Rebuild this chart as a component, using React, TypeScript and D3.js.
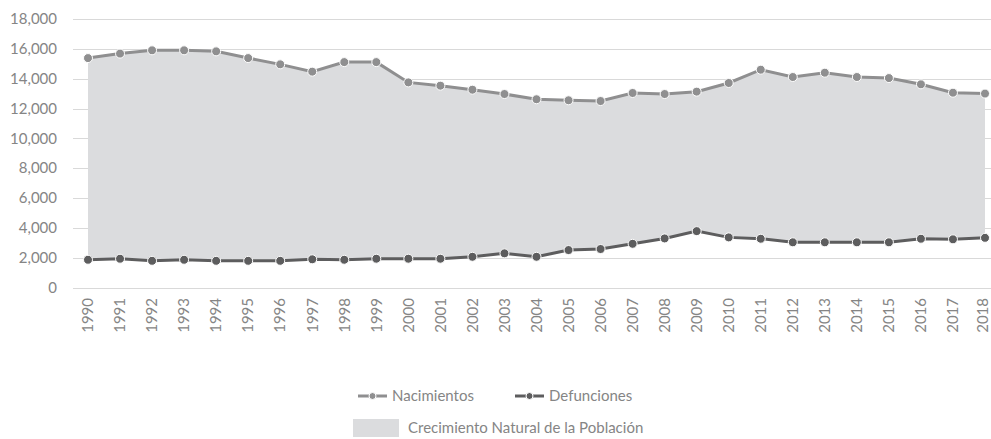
import React from "react";
import * as d3 from "d3";

const years: number[] = d3.range(1990, 2019);

const nacimientos: number[] = [
  15380, 15680, 15900, 15900, 15830, 15380, 14960, 14470, 15110, 15110,
  13750, 13530, 13260, 12970, 12620, 12550, 12500, 13040, 12970, 13130,
  13710, 14600, 14110, 14400, 14110, 14040, 13620, 13060, 13000,
];

const defunciones: number[] = [
  1860, 1930, 1790, 1860, 1790, 1790, 1790, 1890, 1860, 1930,
  1930, 1930, 2060, 2290, 2060, 2510, 2580, 2930, 3290, 3780,
  3360, 3270, 3030, 3030, 3030, 3030, 3270, 3230, 3330,
];

const yTicks: number[] = d3.range(0, 18001, 2000);

const width = 991;
const height = 439;
const font = "Lato, 'Open Sans', sans-serif";
const textColor = "#858585";

const App: React.FC = () => {
  const x = d3.scalePoint<number>().domain(years).range([88, 985]);
  const y = d3.scaleLinear().domain([0, 18000]).range([287.5, 19]);

  const fmt = d3.format(",");

  const area = d3
    .area<number>()
    .x((d) => x(d) ?? 0)
    .y0((_, i) => y(defunciones[i]))
    .y1((_, i) => y(nacimientos[i]));

  const lineOf = (vals: number[]) =>
    d3
      .line<number>()
      .x((d) => x(d) ?? 0)
      .y((_, i) => y(vals[i]))(years) ?? "";

  const series = [
    { name: "Nacimientos", values: nacimientos, color: "#8f8f90", lx: 358 },
    { name: "Defunciones", values: defunciones, color: "#5d5d5e", lx: 515 },
  ];

  return (
    <svg
      width={width}
      height={height}
      style={{ position: "absolute", left: 0, top: 0, background: "#fff" }}
      fontFamily={font}
    >
      {/* grid */}
      {yTicks.map((t) => (
        <line
          key={t}
          x1={73}
          x2={width}
          y1={Math.round(y(t)) + 0.5}
          y2={Math.round(y(t)) + 0.5}
          stroke="#d9d9d9"
          strokeWidth={1}
        />
      ))}
      {yTicks.map((t) => (
        <text
          key={"l" + t}
          x={57}
          y={y(t)}
          dy="0.35em"
          textAnchor="end"
          fontSize={15}
          fill={textColor}
        >
          {fmt(t)}
        </text>
      ))}

      <path d={area(years) ?? ""} fill="#dbdcde" />

      {series.map((s) => (
        <g key={s.name}>
          <path d={lineOf(s.values)} fill="none" stroke={s.color} strokeWidth={3} />
          {years.map((yr, i) => (
            <circle
              key={yr}
              cx={x(yr)}
              cy={y(s.values[i])}
              r={4.5}
              fill={s.color}
              stroke="#fff"
              strokeWidth={1}
            />
          ))}
        </g>
      ))}

      {years.map((yr) => (
        <text
          key={"x" + yr}
          transform={`translate(${Math.min(x(yr) ?? 0, 983)},298) rotate(-90)`}
          dy="0.35em"
          textAnchor="end"
          fontSize={15}
          fill={textColor}
        >
          {yr}
        </text>
      ))}

      {/* legend */}
      <g fontSize={15} fill={textColor}>
        {series.map((s) => (
          <g key={"lg" + s.name}>
            <line x1={s.lx} x2={s.lx + 29} y1={396} y2={396} stroke={s.color} strokeWidth={3} />
            <circle cx={s.lx + 14.5} cy={396} r={3.5} fill={s.color} stroke="#fff" strokeWidth={1} />
            <text x={s.lx + 34} y={396} dy="0.35em">{s.name}</text>
          </g>
        ))}
        <rect x={353} y={419} width={46} height={18} fill="#dbdcde" />
        <text x={408} y={428} dy="0.35em">Crecimiento Natural de la Población</text>
      </g>
    </svg>
  );
};

export default App;
